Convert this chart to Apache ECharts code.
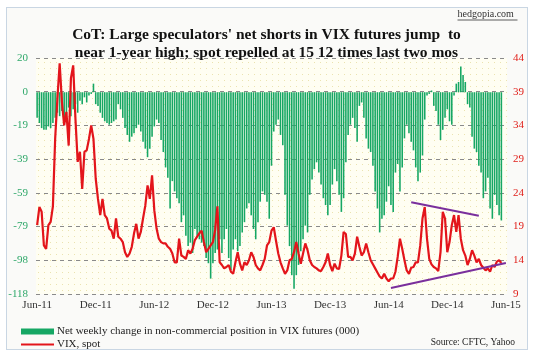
<!DOCTYPE html>
<html>
<head>
<meta charset="utf-8">
<script src="https://cdn.jsdelivr.net/npm/echarts@6/dist/echarts.min.js"></script>
<style>
  body { margin: 0; background: #fff; }
  #frame { position: absolute; left: 6px; top: 7px; width: 520px; height: 341px; border: 1px solid #c9d6e3; background: #fafaf8; }
  #chart { position: absolute; left: 0; top: 0; width: 533px; height: 352px; }
</style>
</head>
<body>
<div id="frame"></div>
<div id="chart"></div>
<script>
// weekly, Jun-11 .. Jun-15 (209 weeks on the axis)
const tickLabels = ['Jun-11', 'Dec-11', 'Jun-12', 'Dec-12', 'Jun-13', 'Dec-13', 'Jun-14', 'Dec-14', 'Jun-15']
const weekCount = 209

// net weekly change in non-commercial position (000)
const netChange = [
  -15, -18, -21, -22, -22, -20, -21, -18, -15, -12, -14, -11, -17, -13, -9, -14, -10, -7, -12, -5, -7, -3, -6, -2, -1, 5,
  -7, -8, -12, -15, -17, -18, -19, -18, -17, -16, -7, -10, -15, -21, -25, -29, -26, -24, -21, -19, -23, -29, -33, -38, -33, -26,
  -20, -16, -18, -28, -35, -44, -50, -68, -52, -58, -62, -65, -76, -72, -84, -90, -88, -94, -80, -84, -86, -88, -90, -97, -100, -109,
  -100, -94, -92, -86, -94, -86, -80, -97, -104, -92, -86, -93, -90, -82, -76, -68, -65, -72, -80, -86, -76, -64, -58, -60, -64, -74,
  -43, -23, -19, -16, -25, -31, -60, -78, -90, -107, -115, -107, -101, -93, -86, -78, -82, -60, -51, -45, -41, -47, -54, -62, -66, -72,
  -66, -54, -45, -52, -60, -70, -62, -41, -25, -19, -15, -21, -29, -8, -6, -15, -27, -33, -35, -43, -58, -68, -82, -74,
  -72, -64, -55, -66, -70, -47, -42, -58, -44, -27, -19, -24, -29, -34, -44, -52, -47, -37, -16, -2, -1, 1, -8, -11, -19, -28,
  -22, -15, -10, -17, -19, -2, 5, 6, 15, 10, 6, -7, -9, -26, -33, -35, -43, -47, -62, -58, -50, -68, -74, -60, -66, -72, -75
]

// VIX weekly close
const vixSpot = [
  19.2, 21.9, 21.2, 16.2, 15.7, 19.2, 19.7, 22.0, 32.0, 38.0, 43.2, 37.5, 34.0, 36.0, 31.0, 41.0, 42.9, 35.0, 28.6, 30.1, 24.6, 30.1, 30.3, 32.0, 34.0, 32.0,
  26.1, 23.1, 20.7, 23.1, 20.7, 20.2, 18.7, 18.4, 17.2, 20.2, 17.5, 17.2, 16.7, 15.2, 14.5, 15.0, 16.0, 18.0, 19.4, 17.2, 18.2, 20.2, 22.1, 25.1, 23.1, 26.6,
  21.4, 18.7, 17.2, 16.7, 16.5, 16.5, 16.0, 15.7, 15.0, 13.7, 13.7, 17.2, 14.7, 14.5, 14.2, 15.5, 15.0, 15.7, 17.0, 17.5, 18.0, 18.4, 16.7, 15.2, 15.7, 16.2,
  16.7, 18.5, 22.0, 13.7, 13.3, 12.8, 13.0, 13.3, 12.3, 12.0, 13.7, 15.2, 13.5, 12.5, 13.7, 13.3, 14.0, 15.2, 14.5, 13.3, 12.8, 12.5, 13.3, 14.2, 16.2, 16.7,
  18.4, 18.9, 16.9, 15.0, 13.7, 12.8, 12.0, 12.5, 14.0, 14.2, 15.2, 16.7, 15.0, 13.5, 15.0, 16.5, 15.5, 14.0, 13.3, 13.0, 12.8, 12.5, 12.4, 13.0, 13.7, 15.0,
  13.3, 12.4, 13.5, 12.8, 12.7, 14.7, 18.2, 17.9, 14.5, 14.5, 14.0, 15.0, 17.5, 16.0, 14.7, 15.2, 16.5, 15.2, 14.0, 13.4, 12.8, 12.2, 11.6, 11.3,
  12.0, 11.3, 10.9, 11.3, 11.3, 12.3, 14.5, 17.2, 15.7, 14.0, 12.5, 12.0, 12.9, 13.0, 13.7, 13.7, 16.2, 20.2, 21.9, 17.2, 14.2, 13.4, 13.0, 12.8, 12.4, 15.2,
  21.2, 20.2, 15.2, 16.7, 19.2, 20.7, 18.2, 20.7, 17.2, 15.5, 14.7, 13.3, 14.2, 15.5, 14.7, 13.7, 14.2, 13.3, 12.9, 12.5, 12.8, 12.3, 13.3, 13.0, 13.8, 14.0, 13.6
]

// hand-drawn trend lines on the VIX (week index, VIX)
const upperTrend = [[166, 22.6], [196, 20.6]]
const lowerTrend = [[157, 9.9], [208, 13.6]]

const barName = 'Net weekly change in non-commercial position in VIX futures (000)'
const vixName = 'VIX, spot'
const serif = '"Liberation Serif", "DejaVu Serif", serif'

const weeks = Array.from({ length: weekCount }, (_, i) => String(i))

function dotPattern() {
  const c = document.createElement('canvas')
  c.width = 6
  c.height = 6
  const ctx = c.getContext('2d')
  ctx.fillStyle = '#fffef2'
  ctx.fillRect(0, 0, 6, 6)
  ctx.fillStyle = '#ebe3b0'
  ctx.fillRect(2, 2, 1, 1)
  return c
}

const legendText = { fontFamily: serif, fontSize: 11, color: '#222', padding: [0, 0, 0, -2] }

const chart = echarts.init(document.getElementById('chart'))

chart.setOption({
  animation: false,
  title: {
    text: "CoT: Large speculators' net shorts in VIX futures jump  to\nnear 1-year high; spot repelled at 15 12 times last two mos",
    left: 'center',
    top: 21,
    textStyle: { fontFamily: serif, fontWeight: 'bold', fontSize: 15.5, lineHeight: 18, color: '#111' }
  },
  graphic: [
    {
      type: 'group',
      right: 13,
      top: 9,
      children: [
        { type: 'text', left: 0, top: 0, style: { text: 'hedgopia.com', font: '10px ' + serif, fill: '#333' } },
        { type: 'line', shape: { x1: 0, y1: 11, x2: 60, y2: 11 }, style: { stroke: '#333', lineWidth: 0.8 } }
      ]
    },
    {
      type: 'text',
      right: 18,
      top: 337,
      style: { text: 'Source: CFTC, Yahoo', font: '9.5px ' + serif, fill: '#222' }
    }
  ],
  legend: [
    {
      left: 21,
      top: 326,
      padding: 0,
      itemWidth: 33,
      itemHeight: 6,
      textStyle: legendText,
      data: [{ name: barName, icon: 'rect' }]
    },
    {
      left: 21,
      top: 339,
      padding: 0,
      itemWidth: 33,
      itemHeight: 2,
      textStyle: legendText,
      data: [{ name: vixName, icon: 'rect' }]
    }
  ],
  grid: {
    left: 36,
    right: 26,
    top: 58,
    bottom: 58,
    show: true,
    borderWidth: 0,
    backgroundColor: { image: dotPattern(), repeat: 'repeat' }
  },
  xAxis: {
    type: 'category',
    data: weeks,
    boundaryGap: true,
    axisLine: { show: false },
    axisTick: { show: false },
    axisLabel: {
      interval: (idx) => idx % 26 === 0,
      formatter: (v, idx) => tickLabels[Math.round(idx / 26)],
      fontFamily: serif,
      fontSize: 11,
      color: '#333',
      margin: 6
    }
  },
  yAxis: [
    {
      type: 'value',
      min: -118,
      max: 20,
      interval: 138 / 7,
      axisLine: { show: false },
      axisTick: { show: false },
      axisLabel: {
        formatter: (v) => String(Math.round(v)),
        fontFamily: serif,
        fontSize: 11,
        color: '#2fa86a',
        margin: 8
      },
      splitLine: { show: true, lineStyle: { color: '#8a8a8a', type: [4, 4], width: 1 } }
    },
    {
      type: 'value',
      min: 9,
      max: 44,
      interval: 5,
      position: 'right',
      axisLine: { show: false },
      axisTick: { show: false },
      axisLabel: { fontFamily: serif, fontSize: 11, color: '#e0201b', margin: 6 },
      splitLine: { show: false }
    }
  ],
  series: [
    {
      name: barName,
      type: 'bar',
      yAxisIndex: 0,
      data: netChange,
      barWidth: '70%',
      itemStyle: { color: '#16a764' }
    },
    {
      name: vixName,
      type: 'line',
      yAxisIndex: 1,
      data: vixSpot,
      symbol: 'none',
      lineStyle: { color: '#e3151b', width: 2.2 },
      itemStyle: { color: '#e3151b' }
    },
    {
      name: 'upper',
      type: 'line',
      yAxisIndex: 1,
      data: upperTrend,
      symbol: 'none',
      lineStyle: { color: '#7a2f9c', width: 2 }
    },
    {
      name: 'lower',
      type: 'line',
      yAxisIndex: 1,
      data: lowerTrend,
      symbol: 'none',
      lineStyle: { color: '#7a2f9c', width: 2 }
    }
  ]
})
</script>
</body>
</html>
